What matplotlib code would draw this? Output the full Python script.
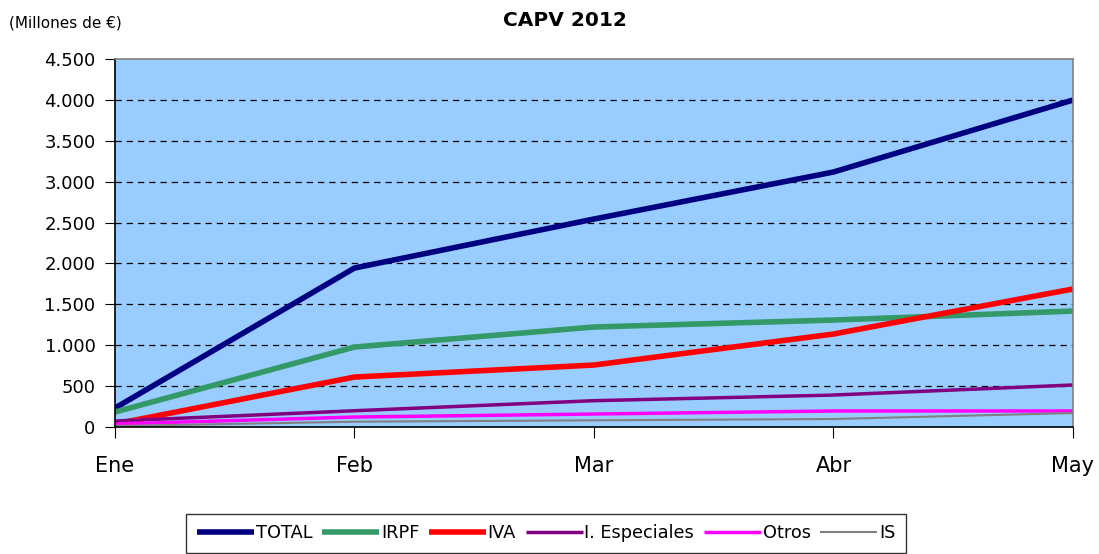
import matplotlib.pyplot as plt
from matplotlib.ticker import FuncFormatter

months = ["Ene", "Feb", "Mar", "Abr", "May"]
total = [232, 1944, 2543, 3118, 3998]
irpf = [183, 978, 1223, 1308, 1418]
iva = [37, 611, 758, 1137, 1688]
especiales = [73, 199, 322, 391, 514]
otros = [37, 122, 159, 196, 196]
is_ = [12, 65, 82, 98, 171]

series = [
    ("TOTAL", total, "#000080", 4.0),
    ("IRPF", irpf, "#339966", 4.0),
    ("IVA", iva, "#ff0000", 4.0),
    ("I. Especiales", especiales, "#800080", 2.5),
    ("Otros", otros, "#ff00ff", 2.5),
    ("IS", is_, "#808080", 1.5),
]

plt.rcParams['font.family'] = ['DejaVu Sans']

fig = plt.figure(figsize=(10.99, 5.54), dpi=100)
ax = fig.add_axes([0.1046, 0.2292, 0.8717, 0.6643])
ax.set_facecolor("#99ccff")

x = list(range(len(months)))
for name, vals, color, lw in series:
    ax.plot(x, vals, color=color, lw=lw, label=name, solid_capstyle="butt")

ax.set_xlim(0, 4)
ax.set_ylim(0, 4500)
ax.set_yticks(range(0, 4501, 500))
ax.yaxis.set_major_formatter(FuncFormatter(lambda v, p: f"{int(v):,}".replace(",", ".")))
ax.set_xticks(x)
ax.set_xticklabels(months)
ax.tick_params(axis="y", labelsize=13, length=7, direction="out", pad=7)
ax.tick_params(axis="x", labelsize=15, length=8, direction="out", pad=13)

for v in range(500, 4500, 500):
    ax.axhline(v, color="black", lw=0.9, ls=(0, (5, 4)), zorder=0.5)

ax.spines["top"].set_color("#808080")
ax.spines["right"].set_color("#808080")
ax.spines["left"].set_color("black")
ax.spines["bottom"].set_color("black")
for s in ax.spines.values():
    s.set_linewidth(1.2)

fig.text(0.514, 0.963, "CAPV 2012", ha="center", va="center", fontsize=14.5,
         fontweight="bold")
fig.text(0.008, 0.958, "(Millones de €)", ha="left", va="center", fontsize=11)

leg = fig.legend(loc="center", bbox_to_anchor=(0.497, 0.0375), ncol=6,
                 frameon=True, fancybox=False, handlelength=3.2,
                 handletextpad=0.1, columnspacing=0.55, borderpad=0.6,
                 prop={"size": 12.8})
leg.get_frame().set_edgecolor("black")
leg.get_frame().set_linewidth(1.0)

plt.savefig("out.png", dpi=100)
plt.close()
